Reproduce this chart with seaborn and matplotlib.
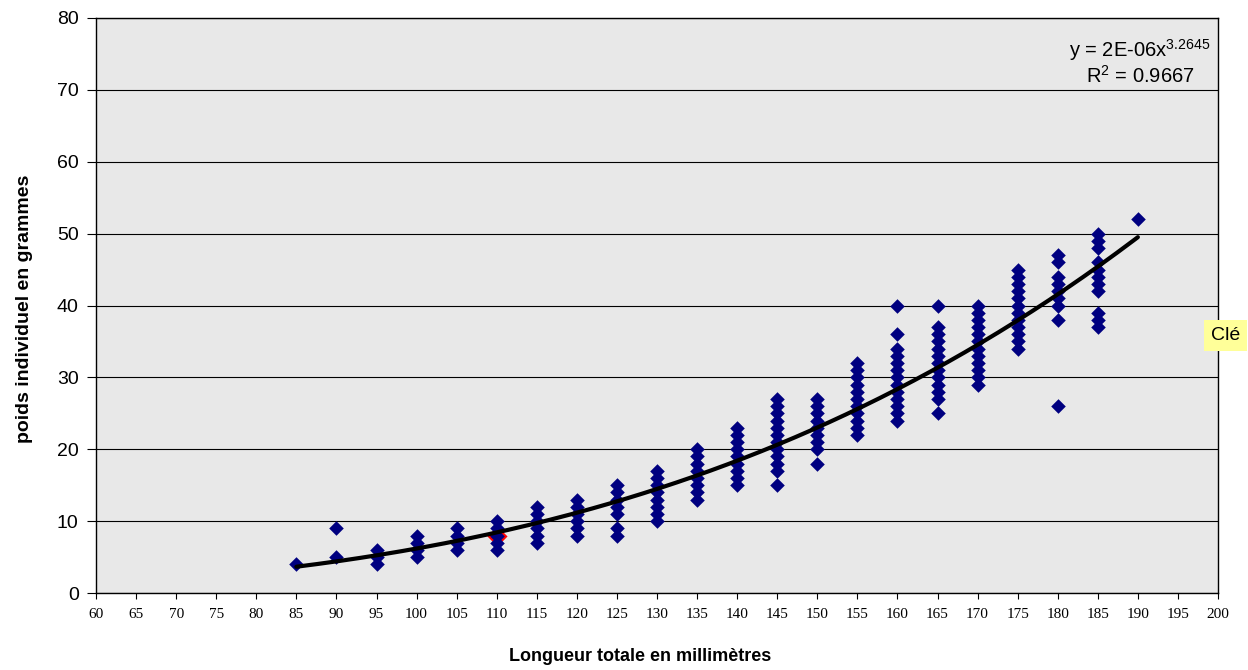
import numpy as np
import pandas as pd
import matplotlib
matplotlib.use("Agg")
import matplotlib.pyplot as plt
import seaborn as sns

# ---- data ----
longueurs = [85, 90, 95, 100, 105, 110, 115, 120, 125, 130, 135, 140,
             145, 150, 155, 160, 165, 170, 175, 180, 185, 190]
poids = [
    [4],
    [5, 9],
    [4, 5, 6],
    [5, 6, 7, 8],
    [6, 7, 8, 9],
    [6, 7, 8, 9, 10],
    [7, 8, 9, 10, 11, 12],
    [8, 9, 10, 11, 12, 13],
    [8, 9, 11, 12, 13, 14, 15],
    [10, 11, 12, 13, 14, 15, 16, 17],
    [13, 14, 15, 16, 17, 18, 19, 20],
    [15, 16, 17, 18, 19, 20, 21, 22, 23],
    [15, 17, 18, 19, 20, 21, 22, 23, 24, 25, 26, 27],
    [18, 20, 21, 22, 23, 24, 25, 26, 27],
    [22, 23, 24, 25, 26, 27, 28, 29, 30, 31, 32],
    [24, 25, 26, 27, 28, 29, 30, 31, 32, 33, 34, 36, 40],
    [25, 27, 28, 29, 30, 31, 32, 33, 34, 35, 36, 37, 40],
    [29, 30, 31, 32, 33, 34, 35, 36, 37, 38, 39, 40],
    [34, 35, 36, 37, 38, 39, 40, 41, 42, 43, 44, 45],
    [26, 38, 40, 41, 42, 43, 44, 46, 47],
    [37, 38, 39, 42, 43, 44, 45, 46, 48, 49, 50],
    [52],
]
point_rouge_x = [110]
point_rouge_y = [8]
equation = "y = 2E-06x"
exposant = "3.2645"
r2_texte = "0.9667"
x_ticks = list(range(60, 201, 5))
y_ticks = list(range(0, 81, 10))

df = pd.DataFrame({
    "longueur": [l for l, ps in zip(longueurs, poids) for _ in ps],
    "poids": [p for ps in poids for p in ps],
})
df_rouge = pd.DataFrame({"longueur": point_rouge_x, "poids": point_rouge_y})

# power trend fitted on the data (log-log regression, as a spreadsheet does)
b, loga = np.polyfit(np.log(df["longueur"]), np.log(df["poids"]), 1)
xc = np.linspace(min(longueurs), max(longueurs), 200)
df_trend = pd.DataFrame({"x": xc, "y": np.exp(loga) * xc ** b})

# ---- style ----
sns.set_theme(style="white")
plt.rcParams["font.family"] = ["Liberation Sans", "DejaVu Sans"]
plt.rcParams["mathtext.fontset"] = "custom"
plt.rcParams["mathtext.rm"] = "Liberation Sans"
plt.rcParams["text.color"] = "black"
plt.rcParams["axes.labelcolor"] = "black"
plt.rcParams["xtick.color"] = "black"
plt.rcParams["ytick.color"] = "black"

fig = plt.figure(figsize=(12.48, 6.70), dpi=100)
ax = fig.add_axes([96 / 1248, 1 - 593 / 670, 1122 / 1248, 575 / 670])
ax.set_facecolor("#E8E8E8")

for yv in y_ticks:
    ax.axhline(yv, color="black", lw=0.8, zorder=1)

sns.scatterplot(data=df_rouge, x="longueur", y="poids", marker="D", s=105,
                color="#FF0000", linewidth=0, ax=ax, zorder=3)
sns.scatterplot(data=df, x="longueur", y="poids", marker="D", s=55,
                color="#000080", linewidth=0, ax=ax, zorder=4)
sns.lineplot(data=df_trend, x="x", y="y", color="black", lw=3.0, ax=ax,
             zorder=5)

ax.set_xlim(60, 200)
ax.set_ylim(0, 80)
ax.set_xticks(x_ticks)
ax.set_yticks(y_ticks)
ax.set_xticklabels([str(v) for v in x_ticks], family="Liberation Serif",
                   fontsize=11)
ax.set_yticklabels([str(v) for v in y_ticks], fontsize=14)
ax.tick_params(axis="x", direction="out", length=4, width=0.8, pad=7,
               bottom=True, colors="black")
ax.tick_params(axis="y", direction="out", length=6.5, width=0.8, pad=6,
               left=True, colors="black")
for s in ax.spines.values():
    s.set_color("black")
    s.set_linewidth(1.0)

ax.set_xlabel("Longueur totale en millimètres", fontsize=13, weight="bold")
ax.set_ylabel("poids individuel en grammes", fontsize=14, weight="bold")
ax.xaxis.set_label_coords((640 - 96) / 1122, (593 - 648) / 575)
ax.yaxis.set_label_coords((33 - 96) / 1122, (593 - 309) / 575)

ax.text((1140 - 96) / 1122, (593 - 62) / 575,
        equation + r"$\mathregular{^{" + exposant + r"}}$" + "\n"
        + r"R$\mathregular{^{2}}$ = " + r2_texte,
        transform=ax.transAxes, ha="center", va="center", fontsize=14.5,
        linespacing=1.15, zorder=6)

fig.text(1211 / 1248, 1 - 335 / 670, "Clé", fontsize=14, ha="left",
         va="center",
         bbox=dict(facecolor="#FFFF99", edgecolor="none", pad=5))

fig.savefig("out.png", dpi=100, facecolor="white")
